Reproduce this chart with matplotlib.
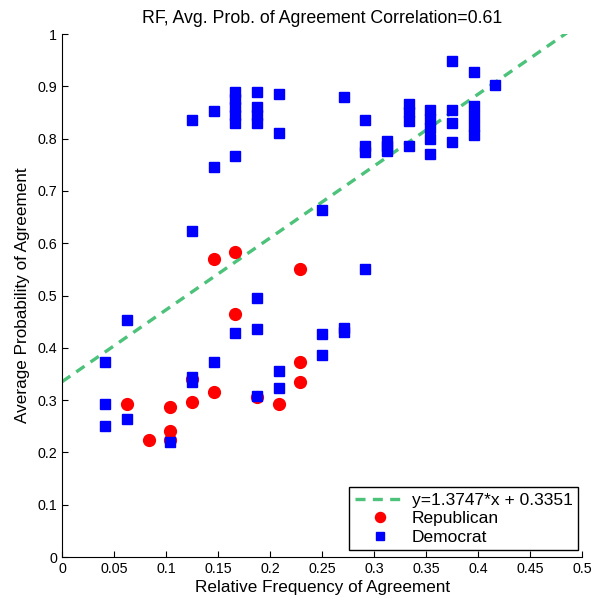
import numpy as np
import matplotlib.pyplot as plt

plt.rcParams['font.family'] = ['Liberation Sans', 'DejaVu Sans']

# relative frequency / avg probability of agreement
rep_x = [0.0625, 0.0833, 0.1042, 0.1042, 0.1042, 0.125, 0.125, 0.1458, 0.1458,
         0.1667, 0.1667, 0.1875, 0.2083, 0.2292, 0.2292, 0.2292]
rep_y = [0.293, 0.224, 0.286, 0.2415, 0.224, 0.341, 0.296, 0.570, 0.316,
         0.584, 0.464, 0.306, 0.293, 0.551, 0.372, 0.335]

dem_x = [0.0417, 0.0417, 0.0417, 0.0625, 0.0625, 0.1042, 0.125, 0.125, 0.125, 0.125,
         0.1458, 0.1458, 0.1458,
         0.1667, 0.1667, 0.1667, 0.1667, 0.1667, 0.1667, 0.1667,
         0.1875, 0.1875, 0.1875, 0.1875, 0.1875, 0.1875, 0.1875,
         0.2083, 0.2083, 0.2083, 0.2083,
         0.25, 0.25, 0.25, 0.2708, 0.2708, 0.2708,
         0.2917, 0.2917, 0.2917, 0.2917,
         0.3125, 0.3125, 0.3125,
         0.3333, 0.3333, 0.3333, 0.3333,
         0.3542, 0.3542, 0.3542, 0.3542, 0.3542,
         0.375, 0.375, 0.375, 0.375,
         0.3958, 0.3958, 0.3958, 0.3958, 0.3958,
         0.4167]
dem_y = [0.373, 0.293, 0.250, 0.453, 0.263, 0.220, 0.836, 0.623, 0.345, 0.334,
         0.853, 0.745, 0.373,
         0.89, 0.875, 0.86, 0.845, 0.83, 0.767, 0.428,
         0.889, 0.86, 0.845, 0.83, 0.496, 0.436, 0.307,
         0.885, 0.811, 0.356, 0.324,
         0.663, 0.426, 0.386, 0.880, 0.438, 0.430,
         0.836, 0.786, 0.774, 0.551,
         0.795, 0.786, 0.776,
         0.867, 0.85, 0.834, 0.786,
         0.855, 0.838, 0.82, 0.80, 0.771,
         0.948, 0.855, 0.829, 0.793,
         0.928, 0.863, 0.843, 0.825, 0.806,
         0.902]

slope = 1.3747
intercept = 0.3351

fig = plt.figure(figsize=(6.02, 6.01), dpi=100)
ax = fig.add_axes([0.103, 0.0732, 0.864, 0.8702])

xl = np.array([0, 0.5])
ax.plot(xl, slope * xl + intercept, '--', color='#4cc27a', linewidth=2.4,
        dashes=(3, 2.2), label='y=%.4f*x + %.4f' % (slope, intercept))
ax.plot(rep_x, rep_y, 'o', color='red', markersize=8.5, label='Republican')
ax.plot(dem_x, dem_y, 's', color='blue', markersize=7.2, label='Democrat')

ax.set_xlim(0, 0.5)
ax.set_ylim(0, 1)
ax.set_xticks(np.arange(0, 0.51, 0.05))
ax.set_xticklabels(['0', '0.05', '0.1', '0.15', '0.2', '0.25', '0.3', '0.35', '0.4', '0.45', '0.5'])
ax.set_yticks(np.arange(0, 1.01, 0.1))
ax.set_yticklabels(['0', '0.1', '0.2', '0.3', '0.4', '0.5', '0.6', '0.7', '0.8', '0.9', '1'])
ax.spines['top'].set_visible(False)
ax.spines['right'].set_visible(False)
ax.tick_params(direction='in', length=4, labelsize=10.3, width=0.8)

ax.set_xlabel('Relative Frequency of Agreement', fontsize=12.3, labelpad=3)
ax.set_ylabel('Average Probability of Agreement', fontsize=12.3, labelpad=5)
ax.set_title('RF, Avg. Prob. of Agreement Correlation=0.61', fontsize=12.8, pad=8)

leg = ax.legend(loc='lower right', fontsize=12.5, fancybox=False, framealpha=1,
                edgecolor='black', handlelength=2.9, handletextpad=0.4,
                borderpad=0.3, labelspacing=0.2, markerscale=0.85,
                borderaxespad=0, bbox_to_anchor=(0.992, 0.013))
leg.get_frame().set_linewidth(1)

plt.savefig('out.png', dpi=100)
